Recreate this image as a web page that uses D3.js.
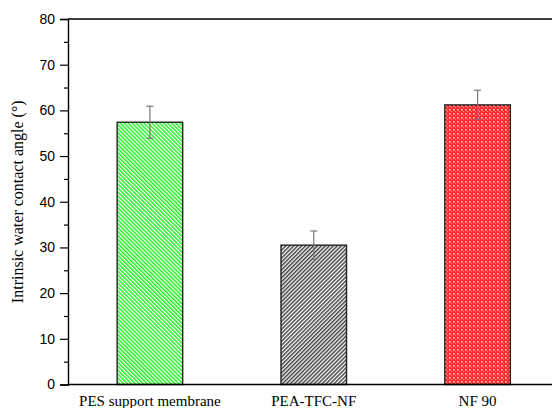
<!DOCTYPE html>
<html>
<head>
<meta charset="utf-8">
<script src="https://cdn.jsdelivr.net/npm/d3@7"></script>
<style>
  html, body { margin: 0; padding: 0; background: #fff; }
  svg { display: block; }
</style>
</head>
<body>
<svg id="chart" width="552" height="408"></svg>
<script>
// Contact angle measurements per membrane
const categories = ["PES support membrane", "PEA-TFC-NF", "NF 90"];
const angles = [57.4, 30.5, 61.2];
const angleErrors = [3.5, 3.1, 3.2];
const yTicks = [0, 10, 20, 30, 40, 50, 60, 70, 80];
const yMinorTicks = [5, 15, 25, 35, 45, 55, 65, 75];

const svg = d3.select("#chart");
const margin = { left: 68, top: 19, bottom: 384.5, right: 559.5 };

const x = d3.scaleBand().domain(categories).range([margin.left, margin.right]).padding(0);
const y = d3.scaleLinear().domain([0, 80]).range([margin.bottom, margin.top]);
const barW = x.bandwidth() * 0.4;

// Fill patterns
const defs = svg.append("defs");
function stripes(id, color, angle) {
  const p = defs.append("pattern")
    .attr("id", id).attr("patternUnits", "userSpaceOnUse")
    .attr("width", 2.8).attr("height", 2.8)
    .attr("patternTransform", `rotate(${angle})`);
  p.append("rect").attr("width", 2.8).attr("height", 2.8).attr("fill", "#fff");
  p.append("rect").attr("width", 1.5).attr("height", 2.8).attr("fill", color);
}
stripes("hatchGreen", "#22ee22", -45);
stripes("hatchGray", "#444", 45);
const chk = defs.append("pattern")
  .attr("id", "checkRed").attr("patternUnits", "userSpaceOnUse")
  .attr("width", 4).attr("height", 4);
chk.append("rect").attr("width", 4).attr("height", 4).attr("fill", "#ff2a2a");
chk.append("rect").attr("x", 1).attr("y", 1).attr("width", 1.6).attr("height", 1.6).attr("fill", "#ffd0d0");
chk.append("rect").attr("x", 3).attr("y", 3).attr("width", 1).attr("height", 1).attr("fill", "#ff9a9a");
const fills = ["url(#hatchGreen)", "url(#hatchGray)", "url(#checkRed)"];

// Bars
svg.append("g").selectAll("rect")
  .data(categories)
  .join("rect")
  .attr("x", (d) => x(d) + x.bandwidth() / 2 - barW / 2)
  .attr("y", (d, i) => y(angles[i]))
  .attr("width", barW)
  .attr("height", (d, i) => y(0) - y(angles[i]))
  .attr("fill", (d, i) => fills[i])
  .attr("stroke", "#222")
  .attr("stroke-width", 1.4);

// Error bars
const eg = svg.append("g").attr("stroke", "#777").attr("stroke-width", 1.2).attr("fill", "none");
categories.forEach((c, i) => {
  const cx = x(c) + x.bandwidth() / 2;
  const lo = y(angles[i] - angleErrors[i]);
  const hi = y(angles[i] + angleErrors[i]);
  eg.append("line").attr("x1", cx).attr("x2", cx).attr("y1", lo).attr("y2", hi);
  eg.append("line").attr("x1", cx - 3.5).attr("x2", cx + 3.5).attr("y1", lo).attr("y2", lo);
  eg.append("line").attr("x1", cx - 3.5).attr("x2", cx + 3.5).attr("y1", hi).attr("y2", hi);
});

// Left axis with major and minor ticks
const yAxis = d3.axisLeft(y).tickValues(yTicks).tickSize(8).tickPadding(5).tickFormat(d3.format("d"));
const ga = svg.append("g").attr("transform", `translate(${margin.left},0)`).call(yAxis);
ga.select(".domain").attr("stroke", "#000").attr("stroke-width", 1.4);
ga.selectAll(".tick line").attr("stroke", "#000").attr("stroke-width", 1.2);
ga.selectAll(".tick text")
  .attr("font-family", "Liberation Sans, Arial, sans-serif")
  .attr("font-size", 14).attr("fill", "#000");
svg.append("g").attr("transform", `translate(${margin.left},0)`)
  .call(d3.axisLeft(y).tickValues(yMinorTicks).tickSize(4).tickFormat(""))
  .call((g) => g.select(".domain").remove())
  .selectAll(".tick line").attr("stroke", "#000").attr("stroke-width", 1.2);

// Frame lines at bottom and top
svg.append("line").attr("x1", margin.left).attr("x2", margin.right)
  .attr("y1", y(0)).attr("y2", y(0)).attr("stroke", "#000").attr("stroke-width", 1.4);
svg.append("line").attr("x1", margin.left).attr("x2", margin.right)
  .attr("y1", y(80)).attr("y2", y(80)).attr("stroke", "#000").attr("stroke-width", 1.4);

// Category labels
svg.append("g").selectAll("text")
  .data(categories)
  .join("text")
  .attr("x", (d) => x(d) + x.bandwidth() / 2)
  .attr("y", 406)
  .attr("text-anchor", "middle")
  .attr("font-family", "Liberation Serif, Times New Roman, serif")
  .attr("font-size", 15)
  .attr("fill", "#000")
  .text((d) => d);

// Y axis title
svg.append("text")
  .attr("transform", `translate(23,${(y(0) + y(80)) / 2}) rotate(-90)`)
  .attr("text-anchor", "middle")
  .attr("font-family", "Liberation Serif, Times New Roman, serif")
  .attr("font-size", 16)
  .attr("fill", "#000")
  .text("Intrinsic water contact angle (°)");
</script>
</body>
</html>
